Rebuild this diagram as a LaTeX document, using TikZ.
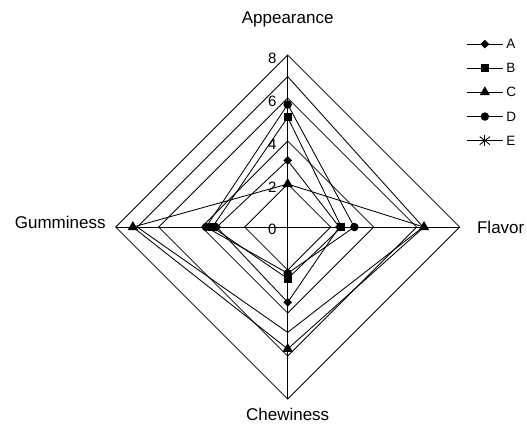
\documentclass[tikz,border=0pt]{standalone}
\usepackage{fontspec}
\setmainfont{Liberation Sans}
\usetikzlibrary{shapes.geometric}
\begin{document}
\begin{tikzpicture}[x=21.5pt,y=21.5pt,line width=0.85pt,
	mkA/.style={diamond,fill,inner sep=0pt,minimum size=9pt},
	mkB/.style={rectangle,fill,inner sep=0pt,minimum size=8pt},
	mkC/.style={regular polygon,regular polygon sides=3,fill,inner sep=0pt,minimum size=12pt},
	mkD/.style={circle,fill,inner sep=0pt,minimum size=8.5pt},
	axislabel/.style={font=\fontsize{17}{20}\selectfont,inner sep=0pt},
	ticklabel/.style={font=\fontsize{15}{18}\selectfont,anchor=east,inner sep=0pt},
	legendlabel/.style={font=\fontsize{13.5}{15}\selectfont,anchor=west,inner sep=0pt}]
	\useasboundingbox (-13.38,-9.16) rectangle (11.13,10.56);

	% grid
	\draw (0,2) -- (2,0) -- (0,-2) -- (-2,0) -- cycle;
	\draw (0,4) -- (4,0) -- (0,-4) -- (-4,0) -- cycle;
	\draw (0,6) -- (6,0) -- (0,-6) -- (-6,0) -- cycle;
	\draw (0,8) -- (8,0) -- (0,-8) -- (-8,0) -- cycle;
	\draw (0,-8) -- (0,8);
	\draw (-8,0) -- (8,0);

	\node [ticklabel](t0) at (-0.5,-0.1) {0};
	\node [ticklabel](t2) at (-0.5,1.87) {2};
	\node [ticklabel](t4) at (-0.5,3.85) {4};
	\node [ticklabel](t6) at (-0.5,5.84) {6};
	\node [ticklabel](t8) at (-0.5,7.83) {8};

	\node [axislabel,anchor=base](appearance) at (0,9.45) {Appearance};
	\node [axislabel,anchor=base west](flavor) at (8.79,-0.29) {Flavor};
	\node [axislabel,anchor=base](chewiness) at (0,-8.98) {Chewiness};
	\node [axislabel,anchor=base east](gumminess) at (-8.45,-0.09) {Gumminess};

	% E (no marks on the chart)
	\coordinate (E1) at (90:7);
	\coordinate (E2) at (0:6.3);
	\coordinate (E3) at (270:4.9);
	\coordinate (E4) at (180:7);
	\draw (E1) -- (E2) -- (E3) -- (E4) -- cycle;

	% A
	\node [mkA](A1) at (90:3.1) {};
	\node [mkA](A2) at (0:2.4) {};
	\node [mkA](A3) at (270:3.5) {};
	\node [mkA](A4) at (180:3.3) {};
	\draw (A1.center) -- (A2.center) -- (A3.center) -- (A4.center) -- cycle;

	% B
	\node [mkB](B1) at (90:5.1) {};
	\node [mkB](B2) at (0:2.5) {};
	\node [mkB](B3) at (270:2.4) {};
	\node [mkB](B4) at (180:3.5) {};
	\draw (B1.center) -- (B2.center) -- (B3.center) -- (B4.center) -- cycle;

	% C
	\node [mkC](C1) at (90:2.0) {};
	\node [mkC](C2) at (0:6.34) {};
	\node [mkC](C3) at (270:5.67) {};
	\node [mkC](C4) at (180:7.2) {};
	\draw (C1.center) -- (C2.center) -- (C3.center) -- (C4.center) -- cycle;

	% D
	\node [mkD](D1) at (90:5.7) {};
	\node [mkD](D2) at (0:3.1) {};
	\node [mkD](D3) at (270:2.15) {};
	\node [mkD](D4) at (180:3.8) {};
	\draw (D1.center) -- (D2.center) -- (D3.center) -- (D4.center) -- cycle;

	% legend
	\node [mkA](kA) at (9.17,8.51) {};
	\node [mkB](kB) at (9.17,7.39) {};
	\node [mkC](kC) at (9.17,6.27) {};
	\node [mkD](kD) at (9.17,5.14) {};
	\coordinate (kE) at (9.17,4.02);
	\draw ([xshift=-18pt]kA.center) -- ([xshift=18pt]kA.center);
	\draw ([xshift=-18pt]kB.center) -- ([xshift=18pt]kB.center);
	\draw ([xshift=-18pt]kC.center) -- ([xshift=18pt]kC.center);
	\draw ([xshift=-18pt]kD.center) -- ([xshift=18pt]kD.center);
	\draw ([xshift=-18pt]kE) -- ([xshift=18pt]kE);
	\draw ([shift={(90:5.5pt)}]kE) -- ([shift={(270:5.5pt)}]kE);
	\draw ([shift={(38:6.5pt)}]kE) -- ([shift={(218:6.5pt)}]kE);
	\draw ([shift={(142:6.5pt)}]kE) -- ([shift={(322:6.5pt)}]kE);

	\node [legendlabel](lA) at (10.15,8.51) {A};
	\node [legendlabel](lB) at (10.15,7.39) {B};
	\node [legendlabel](lC) at (10.15,6.27) {C};
	\node [legendlabel](lD) at (10.15,5.14) {D};
	\node [legendlabel](lE) at (10.15,4.02) {E};
\end{tikzpicture}
\end{document}
